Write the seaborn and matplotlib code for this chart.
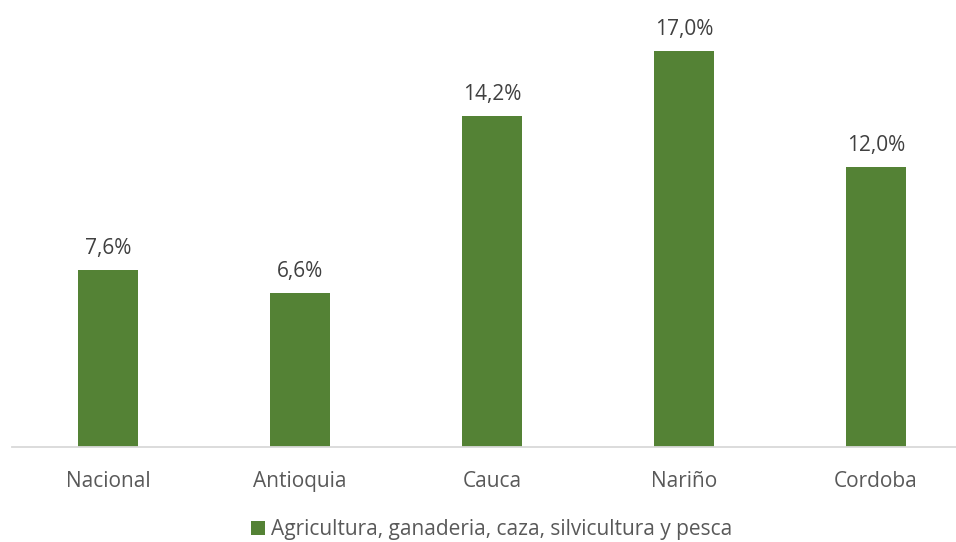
import matplotlib
matplotlib.use("Agg")
import matplotlib.pyplot as plt
import seaborn as sns
import pandas as pd
from matplotlib.patches import Patch

categories = ["Nacional", "Antioquia", "Cauca", "Nariño", "Cordoba"]
values = [7.6, 6.6, 14.2, 17.0, 12.0]
series_name = "Agricultura, ganaderia, caza, silvicultura y pesca"

sns.set_theme(style="white")
plt.rcParams['font.family'] = ['Open Sans', 'DejaVu Sans']

GREEN = "#548235"
TXT = "#595959"

fig = plt.figure(figsize=(9.56, 5.42), dpi=100)
W, H = 956, 542
base_y = 447
px_per_unit = 396 / 17.0
ymax = 18.0
ax_h = ymax * px_per_unit
ax = fig.add_axes([12 / W, (H - base_y) / H, 960 / W, ax_h / H])

df = pd.DataFrame({"cat": categories, "val": values})
sns.barplot(data=df, x="cat", y="val", color=GREEN, width=0.3125, saturation=1,
            linewidth=0, ax=ax)
ax.set_xlim(-0.5, 4.5)
ax.set_ylim(0, ymax)

for c in ax.containers:
    ax.bar_label(c, labels=[f"{v:.1f}".replace(".", ",") + "%" for v in values],
                 padding=8, fontsize=15, color="#404040")

for s in ["top", "right", "left"]:
    ax.spines[s].set_visible(False)
ax.spines["bottom"].set_color("#d9d9d9")
ax.spines["bottom"].set_linewidth(1.3)
ax.set_yticks([])
ax.set_xlabel("")
ax.set_ylabel("")
ax.tick_params(axis="x", length=0, pad=17, labelsize=15, labelcolor=TXT)
ax.set_facecolor("white")

fig.legend(handles=[Patch(facecolor=GREEN, edgecolor="none")], labels=[series_name],
           loc="center", bbox_to_anchor=(492 / W, 1 - 530 / H), frameon=False,
           fontsize=15, labelcolor=TXT, handlelength=0.65, handleheight=0.65,
           handletextpad=0.3, borderpad=0)

fig.savefig("out.png", dpi=100, facecolor="white")
